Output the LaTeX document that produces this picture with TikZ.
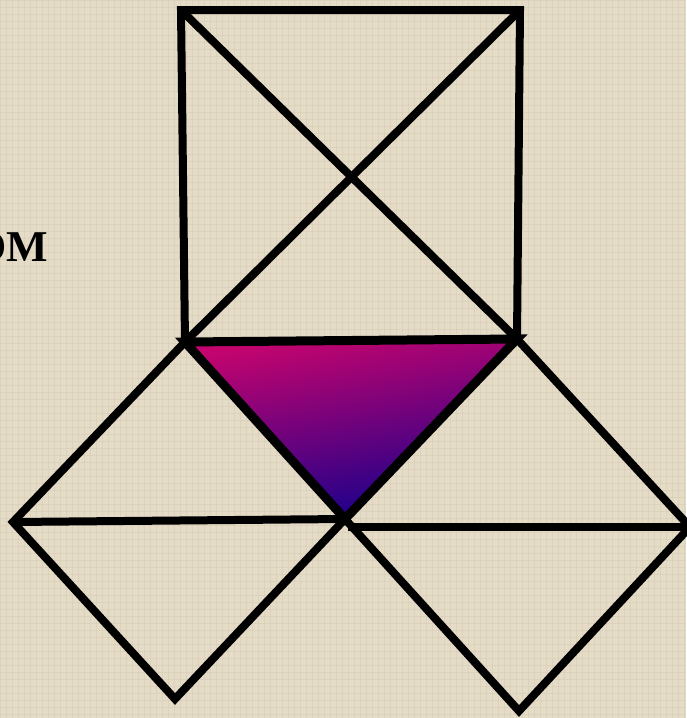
\documentclass[tikz,border=0pt]{standalone}
\usepackage{fontspec}
\setmainfont{Liberation Serif}
\definecolor{paper}{RGB}{229,220,199}
\definecolor{paperline}{RGB}{214,204,180}
\definecolor{magtop}{RGB}{196,4,110}
\definecolor{navybot}{RGB}{18,0,140}
\tikzset{
  edge/.style={draw=black,line width=8pt,line join=miter,line cap=butt},
  triedge/.style={draw=black,line width=9pt,line join=miter},
  label/.style={font=\bfseries\fontsize{44}{50}\selectfont,text=black,inner sep=0pt,anchor=base east}
}
\begin{document}
\begin{tikzpicture}[x=1pt,y=-1pt]
\useasboundingbox (0,0) rectangle (686,718);
\fill[paper] (0,0) rectangle (686,718);
% faint texture
\foreach \i in {0,6,...,686} {\draw[paperline,line width=0.6pt,opacity=0.5] (\i,0) -- (\i,718);}
\foreach \j in {0,7,...,718} {\draw[paperline,line width=0.6pt,opacity=0.5] (0,\j) -- (686,\j);}
% points
\coordinate (A) at (181,10);
\coordinate (B) at (520,10);
\coordinate (C) at (185,342);
\coordinate (D) at (517,339);
\coordinate (E) at (345,519);
\coordinate (E2) at (348,527);
\coordinate (L) at (13,522);
\coordinate (Lb) at (175,699);
\coordinate (R) at (690,527);
\coordinate (Rb) at (519,711);
% text
\node[label] (om) at (48,261) {OM};
% gradient triangle
\shade[top color=magtop,bottom color=navybot,shading angle=10] (C) -- (D) -- (E) -- cycle;
% top square with diagonals
\draw[edge] (C) -- (A) -- (B) -- (D);
\draw[edge] (A) -- (D);
\draw[edge] (B) -- (C);
% left square
\draw[edge] (C) -- (L) -- (Lb) -- (E);
\draw[edge] (L) -- (E);
% right square
\draw[edge] (D) -- (R) -- (Rb) -- (E);
\draw[edge] (E2) -- (R);
% triangle outline
\draw[triedge] (C) -- (D) -- (E) -- cycle;
\end{tikzpicture}
\end{document}
